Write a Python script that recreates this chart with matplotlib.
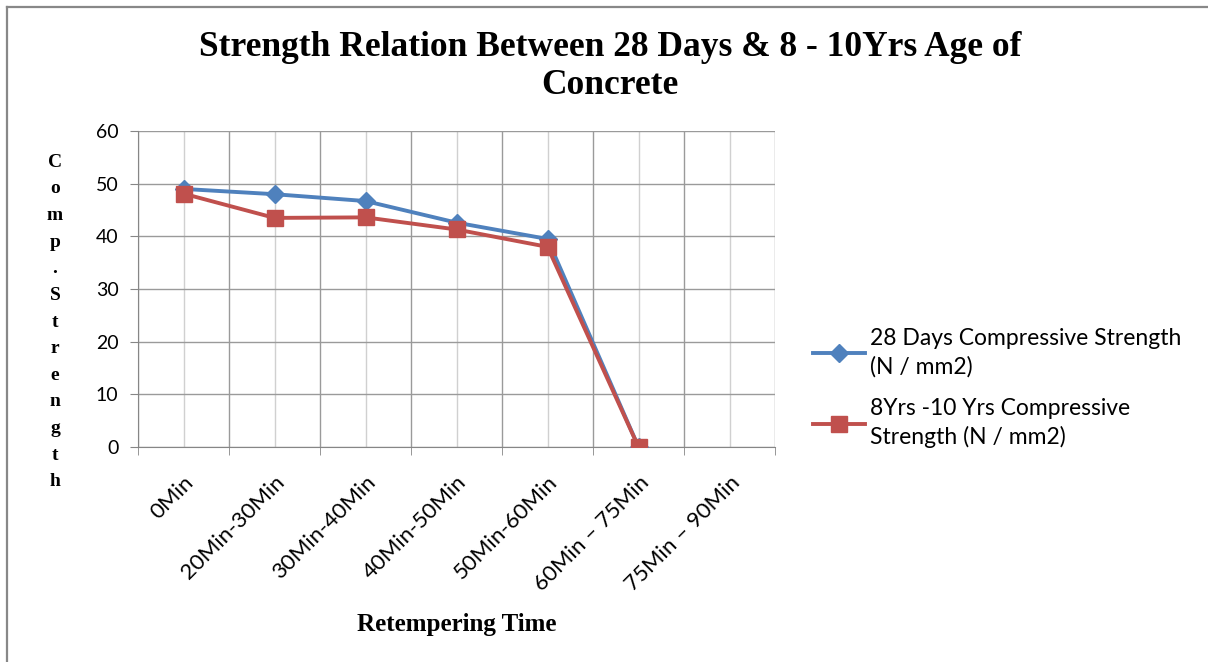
import matplotlib.pyplot as plt
import numpy as np
from matplotlib.lines import Line2D

categories = ['0Min', '20Min-30Min', '30Min-40Min', '40Min-50Min',
              '50Min-60Min', '60Min – 75Min', '75Min – 90Min']
days28 = [49.0, 48.0, 46.7, 42.6, 39.5, 0.0, np.nan]
yrs8_10 = [48.1, 43.5, 43.6, 41.3, 38.0, 0.0, np.nan]
series_labels = ['28 Days Compressive Strength\n(N / mm2)',
                 '8Yrs -10 Yrs Compressive\nStrength (N / mm2)']
y_ticks = [0, 10, 20, 30, 40, 50, 60]

sans = ['Lato', 'DejaVu Sans']
serif = ['Liberation Serif', 'DejaVu Serif']

fig = plt.figure(figsize=(12.08, 6.62), dpi=100)
ax = fig.add_axes([138 / 1208, 1 - 447 / 662, (775 - 138) / 1208, (447 - 131) / 662])

x = np.arange(len(categories))
ax.plot(x, days28, color='#4F81BD', lw=2.8, marker='D', markersize=9, label=series_labels[0], zorder=3)
ax.plot(x, yrs8_10, color='#C0504D', lw=2.8, marker='s', markersize=11, label=series_labels[1], zorder=4)

ax.set_xlim(-0.5, len(categories) - 0.5)
ax.set_ylim(0, 60)
ax.set_yticks(y_ticks)
ax.set_xticks(x)
ax.set_xticks(np.arange(-0.5, len(categories)), minor=True)
ax.set_xticklabels(categories, rotation=45, ha='right', va='top', rotation_mode='anchor',
                   family=sans, fontsize=16)
for lab in ax.get_yticklabels():
    lab.set_family(sans)
    lab.set_fontsize(14)

ax.tick_params(axis='x', which='major', length=0, pad=18)
ax.tick_params(axis='x', which='minor', length=6, color='#868686', direction='out')
ax.tick_params(axis='y', length=6, color='#868686', direction='out', pad=8)

ax.grid(axis='y', color='#9a9a9a', lw=1.0)
ax.grid(axis='x', which='minor', color='#9a9a9a', lw=1.0)
ax.grid(axis='x', which='major', color='#d0d0d0', lw=1.0)
ax.set_axisbelow(True)
for side in ['top', 'right']:
    ax.spines[side].set_visible(False)
for side in ['left', 'bottom']:
    ax.spines[side].set_color('#868686')

fig.text(0.505, 1 - 67 / 662, 'Strength Relation Between 28 Days & 8 - 10Yrs Age of\nConcrete',
         ha='center', va='center', family=serif, fontweight='bold', fontsize=25.5, linespacing=1.2)
fig.text(457 / 1208, 1 - 625 / 662, 'Retempering Time', ha='center', va='center',
         family=serif, fontweight='bold', fontsize=18)
fig.text(55 / 1208, 1 - 322 / 662, '\n'.join('Comp.Strength'), ha='center', va='center',
         family=serif, fontweight='bold', fontsize=14, linespacing=1.74)

leg = ax.legend(loc='center left', bbox_to_anchor=(792 / 1208, 1 - 388 / 662),
                bbox_transform=fig.transFigure, frameon=False, prop={'family': sans, 'size': 16.5},
                handlelength=2.3, handletextpad=0.2, labelspacing=0.9)
for t in leg.get_texts():
    t.set_linespacing(1.4)

# outer chart border
fig.add_artist(Line2D([7 / 1208, 7 / 1208], [0, 1 - 7 / 662], color='#888888', lw=1.6,
                      transform=fig.transFigure))
fig.add_artist(Line2D([7 / 1208, 1], [1 - 7 / 662, 1 - 7 / 662], color='#888888', lw=1.6,
                      transform=fig.transFigure))

fig.savefig('out.png', dpi=100)
